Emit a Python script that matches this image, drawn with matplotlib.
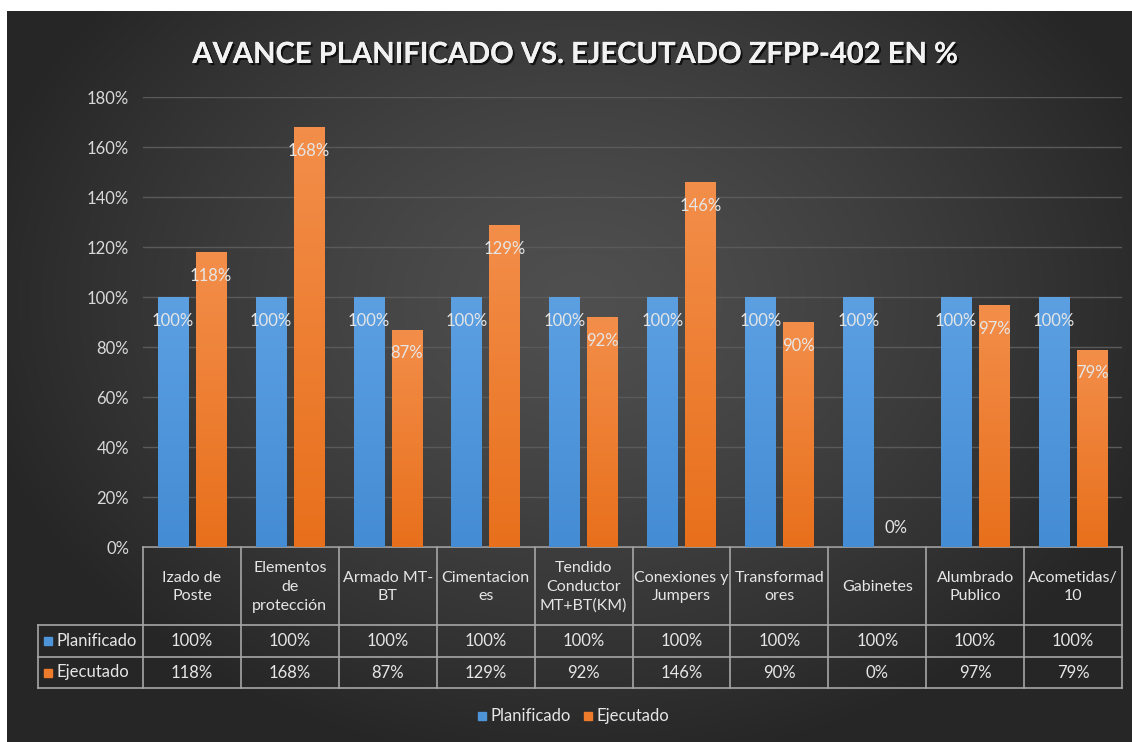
import numpy as np
import matplotlib
matplotlib.use("Agg")
import matplotlib.pyplot as plt
import matplotlib.transforms as mtransforms
import matplotlib.patheffects as pe

plt.rcParams['font.family'] = ['Lato', 'DejaVu Sans']

# ---------------- data ----------------
categories = ["Izado de\nPoste", "Elementos\nde\nprotección", "Armado MT-\nBT",
              "Cimentacion\nes", "Tendido\nConductor\nMT+BT(KM)", "Conexiones y\nJumpers",
              "Transformad\nores", "Gabinetes", "Alumbrado\nPublico", "Acometidas/\n10"]
planificado = [100, 100, 100, 100, 100, 100, 100, 100, 100, 100]
ejecutado = [118, 168, 87, 129, 92, 146, 90, 0, 97, 79]
series_names = ["Planificado", "Ejecutado"]
yticks = [0, 20, 40, 60, 80, 100, 120, 140, 160, 180]
title = "AVANCE PLANIFICADO VS. EJECUTADO ZFPP-402 EN %"

W, H = 1132, 742
fig = plt.figure(figsize=(W / 100, H / 100), dpi=100, facecolor="white")

# overlay axes in pixel coordinates
ov = fig.add_axes([0, 0, 1, 1], zorder=0)
ov.set_xlim(0, W)
ov.set_ylim(H, 0)
ov.axis("off")

# radial gradient background
x0, y0 = 7, 11
gx = np.linspace(x0, W, 400)
gy = np.linspace(y0, H, 300)
XX, YY = np.meshgrid(gx, gy)
cx, cy = 580, 300
r = np.sqrt(((XX - cx) / 620) ** 2 + ((YY - cy) / 470) ** 2)
r = np.clip(r, 0, 1)
v = 0.31 - 0.16 * r ** 1.3
img = np.dstack([v, v, v])
ov.imshow(img, extent=(x0, W, H, y0), aspect="auto", interpolation="bilinear", zorder=0)

# main axes
left, right, top, bottom = 143, 1122, 97, 547
ax = fig.add_axes([left / W, 1 - bottom / H, (right - left) / W, (bottom - top) / H], zorder=1)
ax.patch.set_visible(False)
n = len(categories)
xs = np.arange(n)
ax.set_xlim(-0.5, n - 0.5)
ax.set_ylim(0, 180)
ax.set_yticks(yticks)
ax.set_yticklabels([f"{t}%" for t in yticks], color="#D9D9D9", fontsize=12)
ax.tick_params(axis="y", length=0, pad=10)
ax.set_xticks([])
for s in ax.spines.values():
    s.set_visible(False)
ax.grid(axis="y", color="#5A5A5A", linewidth=1)
ax.set_axisbelow(True)

bw = 0.31
off = 0.194
blue_top, blue_bot = np.array([0x5C, 0xA0, 0xE2]) / 255, np.array([0x44, 0x8C, 0xD4]) / 255
or_top, or_bot = np.array([0xF3, 0x8E, 0x4A]) / 255, np.array([0xE8, 0x70, 0x1C]) / 255


def grad_bars(bars, ctop, cbot):
    for b in bars:
        h = b.get_height()
        if h <= 0:
            continue
        xl = b.get_x()
        g = np.linspace(0, 1, 64)[:, None]
        col = ctop[None, :] * (1 - g) + cbot[None, :] * g
        col = np.repeat(col[:, None, :], 2, axis=1)
        im = ax.imshow(col, extent=(xl, xl + b.get_width(), 0, h), aspect="auto",
                       zorder=2, interpolation="bilinear")
        im.set_clip_path(b)
        b.set_facecolor("none")


b1 = ax.bar(xs - off, planificado, bw, color="#4A90D9", zorder=2, linewidth=0)
b2 = ax.bar(xs + off, ejecutado, bw, color="#EE7B2C", zorder=2, linewidth=0)
grad_bars(b1, blue_top, blue_bot)
grad_bars(b2, or_top, or_bot)
ax.set_xlim(-0.5, n - 0.5)
ax.set_ylim(0, 180)

lab_col = "#E6E6E6"
for xi, val in zip(xs - off, planificado):
    yv = val - 9.6 if val > 12 else val + 7.6
    ax.text(xi, yv, f"{val}%", ha="center", va="center", color=lab_col, fontsize=12, zorder=3)
for xi, val in zip(xs + off, ejecutado):
    yv = val - 9.6 if val > 12 else val + 7.6
    ax.text(xi, yv, f"{val}%", ha="center", va="center", color=lab_col, fontsize=12, zorder=3)

# title
ov.text(575, 55, title, ha="center", va="center", fontsize=21, fontweight="bold",
        color="#F2F2F2", zorder=5,
        path_effects=[pe.withSimplePatchShadow(offset=(1.5, -1.5), shadow_rgbFace="black", alpha=0.7),
                      pe.Normal()])

# data table below
tr = mtransforms.blended_transform_factory(ax.transData, ov.transData)
lc = "#A6A6A6"
y_top, y_h, y_r1, y_r2 = 547, 625, 657, 688
tab_left = 38
bounds = np.arange(n + 1) - 0.5
ov.plot([left, right], [y_top, y_top], color=lc, lw=1.2, zorder=4)
for yy in (y_h, y_r1, y_r2):
    ov.plot([tab_left, right], [yy, yy], color=lc, lw=1.2, zorder=4)
for bx in bounds:
    ov.plot([bx, bx], [y_top, y_r2], color=lc, lw=1.2, transform=tr, zorder=4)
ov.plot([tab_left, tab_left], [y_h, y_r2], color=lc, lw=1.2, zorder=4)

tcol = "#E6E6E6"
for xi, cat in zip(xs, categories):
    ov.text(xi, (y_top + y_h) / 2 + 1, cat, ha="center", va="center", color=tcol,
            fontsize=11.5, linespacing=1.42, transform=tr, zorder=5)
for xi, val in zip(xs, planificado):
    ov.text(xi, (y_h + y_r1) / 2, f"{val}%", ha="center", va="center", color=tcol,
            fontsize=12, transform=tr, zorder=5)
for xi, val in zip(xs, ejecutado):
    ov.text(xi, (y_r1 + y_r2) / 2, f"{val}%", ha="center", va="center", color=tcol,
            fontsize=12, transform=tr, zorder=5)

colors = ["#4E94D8", "#EE7B2C"]
for (yy0, yy1), name, c in zip([(y_h, y_r1), (y_r1, y_r2)], series_names, colors):
    ym = (yy0 + yy1) / 2
    ov.add_patch(plt.Rectangle((44, ym - 4), 8, 8, color=c, zorder=5))
    ov.text(57, ym, name, ha="left", va="center", color=tcol, fontsize=12, zorder=5)

# bottom legend
leg_pos = [482, 588]
for lx, name, c in zip(leg_pos, series_names, colors):
    ov.add_patch(plt.Rectangle((lx - 4, 716 - 4), 8, 8, color=c, zorder=5))
    ov.text(lx + 8, 716, name, ha="left", va="center", color=tcol, fontsize=12, zorder=5)

fig.savefig("out.png", dpi=100, facecolor="white")
